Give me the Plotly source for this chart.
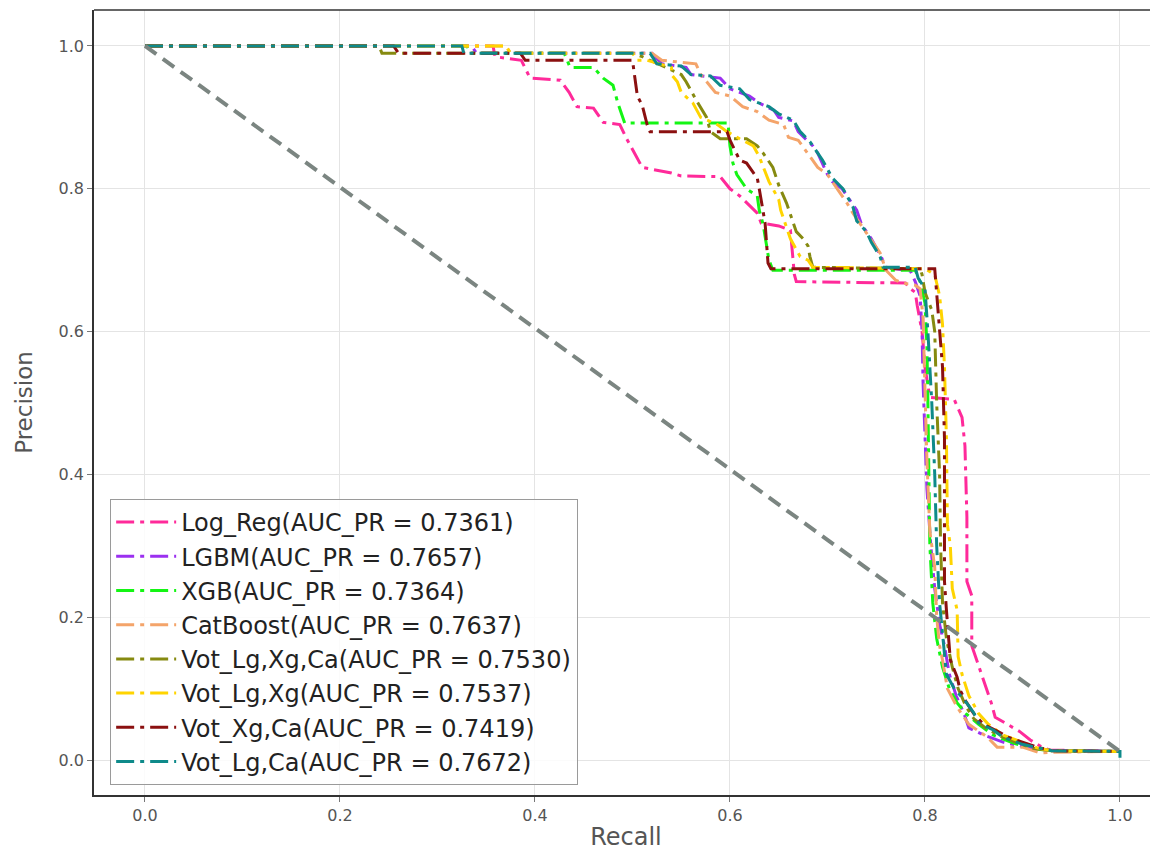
import plotly.graph_objects as go

# ---------------- data ----------------
model_names = ["Log_Reg", "LGBM", "XGB", "CatBoost",
               "Vot_Lg,Xg,Ca", "Vot_Lg,Xg", "Vot_Xg,Ca", "Vot_Lg,Ca"]
auc_pr = ["0.7361", "0.7657", "0.7364", "0.7637", "0.7530", "0.7537", "0.7419", "0.7672"]

recall_logreg = [0, 0.357, 0.359, 0.386, 0.395, 0.426, 0.435, 0.443, 0.46, 0.47, 0.487, 0.494, 0.502,
                 0.51, 0.54, 0.55, 0.59, 0.60, 0.61, 0.628, 0.632, 0.65, 0.662, 0.666, 0.668, 0.78,
                 0.785, 0.79, 0.792, 0.797, 0.80, 0.805, 0.83, 0.838, 0.841, 0.843, 0.843, 0.848,
                 0.848, 0.853, 0.86, 0.868, 0.872, 0.884, 0.897, 0.908, 0.92, 0.928, 1.0]
prec_logreg = [1.0, 1.0, 0.985, 0.98, 0.955, 0.952, 0.935, 0.915, 0.913, 0.893, 0.89, 0.87, 0.85,
               0.83, 0.822, 0.818, 0.817, 0.80, 0.79, 0.766, 0.752, 0.748, 0.742, 0.68, 0.67, 0.668,
               0.66, 0.655, 0.637, 0.60, 0.55, 0.508, 0.505, 0.48, 0.44, 0.34, 0.25, 0.23,
               0.16, 0.14, 0.11, 0.08, 0.06, 0.05, 0.04, 0.028, 0.018, 0.014, 0.012]

recall_lgbm = [0, 0.335, 0.34, 0.52, 0.53, 0.555, 0.56, 0.59, 0.60, 0.62, 0.63, 0.645, 0.65, 0.665,
               0.67, 0.685, 0.69, 0.70, 0.705, 0.715, 0.72, 0.73, 0.735, 0.745, 0.755, 0.76, 0.785,
               0.79, 0.795, 0.797, 0.798, 0.80, 0.802, 0.806, 0.81, 0.815, 0.82, 0.825, 0.832,
               0.84, 0.845, 0.86, 0.88, 0.91, 0.93, 1.0]
prec_lgbm = [1.0, 1.0, 0.99, 0.99, 0.975, 0.97, 0.96, 0.955, 0.94, 0.93, 0.92, 0.91, 0.90, 0.895,
             0.88, 0.86, 0.85, 0.82, 0.81, 0.80, 0.79, 0.77, 0.75, 0.73, 0.705, 0.69, 0.685,
             0.67, 0.65, 0.60, 0.53, 0.45, 0.38, 0.30, 0.24, 0.19, 0.16, 0.12, 0.09,
             0.065, 0.045, 0.035, 0.025, 0.016, 0.013, 0.012]

recall_xgb = [0, 0.33, 0.335, 0.43, 0.436, 0.46, 0.47, 0.48, 0.485, 0.49, 0.492, 0.598, 0.60, 0.603,
              0.607, 0.617, 0.628, 0.63, 0.634, 0.64, 0.644, 0.79, 0.795, 0.80, 0.802, 0.803, 0.804,
              0.805, 0.808, 0.812, 0.818, 0.825, 0.833, 0.842, 0.855, 0.87, 0.89, 0.91, 0.93, 1.0]
prec_xgb = [1.0, 1.0, 0.99, 0.99, 0.97, 0.97, 0.955, 0.945, 0.92, 0.90, 0.892, 0.892, 0.86, 0.836,
            0.82, 0.80, 0.79, 0.77, 0.75, 0.70, 0.686, 0.686, 0.67, 0.64, 0.58, 0.50, 0.40,
            0.30, 0.22, 0.17, 0.13, 0.10, 0.08, 0.065, 0.05, 0.035, 0.024, 0.016, 0.013, 0.012]

recall_cat = [0, 0.37, 0.375, 0.52, 0.53, 0.565, 0.57, 0.585, 0.60, 0.613, 0.628, 0.64, 0.655, 0.66,
              0.67, 0.69, 0.70, 0.72, 0.726, 0.747, 0.754, 0.76, 0.77, 0.777, 0.79, 0.795, 0.798,
              0.80, 0.802, 0.805, 0.81, 0.812, 0.815, 0.818, 0.823, 0.833, 0.845, 0.864, 0.874,
              0.90, 0.918, 0.93, 1.0]
prec_cat = [1.0, 1.0, 0.99, 0.99, 0.98, 0.975, 0.96, 0.935, 0.93, 0.915, 0.908, 0.896, 0.89, 0.872,
            0.868, 0.83, 0.82, 0.78, 0.766, 0.724, 0.71, 0.686, 0.672, 0.668, 0.665, 0.66, 0.62,
            0.52, 0.42, 0.32, 0.27, 0.20, 0.16, 0.14, 0.10, 0.074, 0.05, 0.032, 0.018,
            0.018, 0.01, 0.011, 0.012]

recall_vot_lxc = [0, 0.24, 0.243, 0.50, 0.51, 0.55, 0.555, 0.565, 0.576, 0.58, 0.59, 0.617, 0.628,
                  0.634, 0.644, 0.65, 0.658, 0.665, 0.668, 0.675, 0.68, 0.682, 0.685, 0.795,
                  0.797, 0.80, 0.807, 0.81, 0.812, 0.815, 0.816, 0.818, 0.822, 0.828, 0.834,
                  0.842, 0.85, 0.862, 0.878, 0.895, 0.912, 0.93, 1.0]
prec_vot_lxc = [1.0, 1.0, 0.99, 0.99, 0.985, 0.96, 0.95, 0.925, 0.90, 0.88, 0.87, 0.87, 0.86,
                0.85, 0.83, 0.805, 0.78, 0.75, 0.74, 0.73, 0.72, 0.705, 0.69, 0.688,
                0.68, 0.655, 0.63, 0.60, 0.50, 0.40, 0.30, 0.22, 0.17, 0.13, 0.10,
                0.075, 0.058, 0.045, 0.033, 0.024, 0.016, 0.013, 0.012]

recall_vot_lx = [0, 0.37, 0.375, 0.50, 0.505, 0.515, 0.54, 0.54, 0.546, 0.55, 0.562, 0.57, 0.587,
                 0.597, 0.61, 0.624, 0.63, 0.635, 0.64, 0.65, 0.652, 0.658, 0.662, 0.672, 0.68,
                 0.685, 0.80, 0.81, 0.815, 0.818, 0.82, 0.822, 0.823, 0.826, 0.828, 0.833, 0.834,
                 0.838, 0.845, 0.855, 0.865, 0.88, 0.90, 0.915, 0.93, 1.0]
prec_vot_lx = [1.0, 1.0, 0.99, 0.99, 0.98, 0.98, 0.97, 0.96, 0.95, 0.935, 0.92, 0.90, 0.89,
               0.88, 0.87, 0.86, 0.845, 0.826, 0.81, 0.785, 0.77, 0.746, 0.73, 0.705, 0.70,
               0.69, 0.688, 0.68, 0.65, 0.61, 0.55, 0.45, 0.33, 0.30, 0.24, 0.21, 0.145,
               0.12, 0.09, 0.065, 0.05, 0.035, 0.025, 0.017, 0.013, 0.012]

recall_vot_xc = [0, 0.255, 0.26, 0.385, 0.39, 0.50, 0.502, 0.505, 0.51, 0.515, 0.518, 0.597, 0.60,
                 0.61, 0.617, 0.628, 0.63, 0.634, 0.636, 0.639, 0.642, 0.81, 0.812, 0.815, 0.818,
                 0.82, 0.82, 0.82, 0.822, 0.826, 0.833, 0.836, 0.841, 0.85, 0.86, 0.875, 0.885,
                 0.90, 0.915, 0.93, 1.0]
prec_vot_xc = [1.0, 1.0, 0.99, 0.99, 0.98, 0.98, 0.96, 0.93, 0.917, 0.89, 0.88, 0.88, 0.868,
               0.84, 0.836, 0.815, 0.80, 0.77, 0.752, 0.696, 0.688, 0.688, 0.65, 0.60, 0.55,
               0.45, 0.34, 0.25, 0.21, 0.14, 0.116, 0.098, 0.084, 0.065, 0.05, 0.04, 0.032,
               0.025, 0.018, 0.013, 0.012]

recall_vot_lc = [0, 0.325, 0.327, 0.518, 0.525, 0.55, 0.56, 0.58, 0.59, 0.61, 0.62, 0.64, 0.65,
                 0.665, 0.672, 0.682, 0.69, 0.695, 0.705, 0.716, 0.72, 0.726, 0.73, 0.74, 0.745,
                 0.754, 0.757, 0.79, 0.793, 0.80, 0.803, 0.807, 0.81, 0.812, 0.815, 0.818, 0.82,
                 0.822, 0.83, 0.84, 0.85, 0.855, 0.87, 0.88, 0.90, 0.92, 0.93, 1.0, 1.0]
prec_vot_lc = [1.0, 1.0, 0.99, 0.99, 0.975, 0.972, 0.96, 0.958, 0.945, 0.94, 0.925, 0.915, 0.905,
               0.896, 0.88, 0.866, 0.85, 0.84, 0.815, 0.80, 0.79, 0.775, 0.755, 0.74, 0.725,
               0.705, 0.69, 0.69, 0.675, 0.66, 0.60, 0.50, 0.40, 0.30, 0.22, 0.18, 0.15,
               0.12, 0.10, 0.085, 0.066, 0.052, 0.042, 0.032, 0.022, 0.016, 0.013, 0.012, 0.003]

baseline_recall = [0.0, 1.0]
baseline_prec = [1.0, 0.012]

x_ticks = [0.0, 0.2, 0.4, 0.6, 0.8, 1.0]
y_ticks = [0.0, 0.2, 0.4, 0.6, 0.8, 1.0]

# ---------------- styling ----------------
colors = ["#ff2a9a", "#9b30f0", "#14f514", "#f4a46a", "#868a10", "#ffd400", "#8b1010", "#0e8a8a"]
series = [
    (recall_logreg, prec_logreg), (recall_lgbm, prec_lgbm), (recall_xgb, prec_xgb),
    (recall_cat, prec_cat), (recall_vot_lxc, prec_vot_lxc), (recall_vot_lx, prec_vot_lx),
    (recall_vot_xc, prec_vot_xc), (recall_vot_lc, prec_vot_lc),
]

fig = go.Figure()
for name, auc, col, (r, p) in zip(model_names, auc_pr, colors, series):
    fig.add_trace(go.Scatter(
        x=r, y=p, mode="lines", name=f"{name}(AUC_PR = {auc})",
        line=dict(color=col, width=3, dash="18px,6px,4px,6px"),
    ))

fig.add_trace(go.Scatter(
    x=baseline_recall, y=baseline_prec, mode="lines", showlegend=False,
    line=dict(color="#7b8581", width=4, dash="14px,8px"),
))

# the page body has an 8px default margin, so margins are offset by 8px
axis_font = dict(family="DejaVu Sans", size=16, color="#555555")
fig.update_layout(
    width=1158, height=850,
    margin=dict(l=86, r=8, t=2, b=63),
    paper_bgcolor="white", plot_bgcolor="white",
    font=dict(family="DejaVu Sans", color="#333333"),
    legend=dict(
        x=0.015, y=0.013, xanchor="left", yanchor="bottom",
        bgcolor="rgba(255,255,255,0.85)", bordercolor="#9a9a9a", borderwidth=1.2,
        font=dict(family="DejaVu Sans", size=24, color="#222222"),
        itemwidth=60,
    ),
    xaxis=dict(
        range=[-0.0523, 1.039], tickvals=x_ticks, tickformat=".1f", automargin=False,
        showgrid=True, gridcolor="#e4e4e4", gridwidth=1, zeroline=False,
        showline=True, linecolor="#333333", linewidth=1.5,
        ticks="outside", ticklen=5, tickcolor="#777777", tickfont=axis_font,
        title=dict(text="Recall", font=dict(family="DejaVu Sans", size=24, color="#555555"), standoff=4),
    ),
    yaxis=dict(
        range=[-0.049, 1.0504], tickvals=y_ticks, tickformat=".1f", automargin=False,
        showgrid=True, gridcolor="#e4e4e4", gridwidth=1, zeroline=False,
        showline=True, linecolor="#333333", linewidth=1.5,
        ticks="outside", ticklen=5, tickcolor="#777777", tickfont=axis_font,
        title=dict(text="Precision", font=dict(family="DejaVu Sans", size=23, color="#555555"), standoff=20),
    ),
    shapes=[dict(type="line", xref="paper", yref="paper", x0=0, x1=1, y0=1, y1=1,
                 line=dict(color="#333333", width=1.5))],
)

fig.write_html("out.html")
